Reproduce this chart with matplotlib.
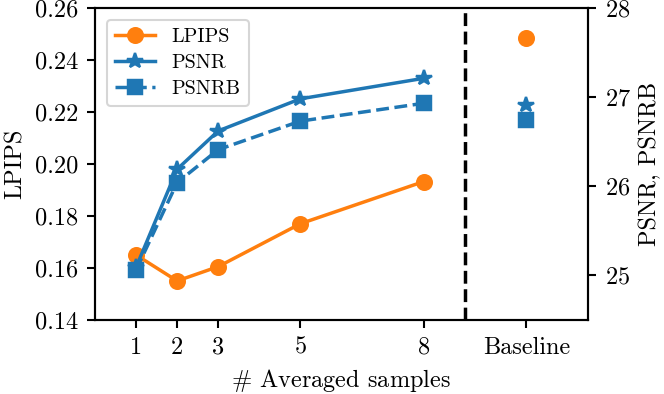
import numpy as np
import matplotlib
matplotlib.use('Agg')
import matplotlib.pyplot as plt

plt.rcParams['font.family'] = 'serif'
plt.rcParams['font.serif'] = ['cmr10']
plt.rcParams['mathtext.fontset'] = 'cm'
plt.rcParams['axes.unicode_minus'] = False
plt.rcParams['axes.formatter.use_mathtext'] = True
plt.rcParams['axes.linewidth'] = 1.5
for a in ['xtick', 'ytick']:
    plt.rcParams[a + '.major.size'] = 6
    plt.rcParams[a + '.major.width'] = 1.5
    plt.rcParams[a + '.major.pad'] = 6

samples = [1, 2, 3, 5, 8]
tick_labels = ['1', '2', '3', '5', '8', 'Baseline']
lpips = [0.165, 0.155, 0.1605, 0.177, 0.1932]
psnr = [25.09, 26.19, 26.62, 26.98, 27.21]
psnrb = [25.06, 26.04, 26.41, 26.73, 26.93]
lpips_base = 0.2486
psnr_base = 26.91
psnrb_base = 26.74

base_x = 10.5
sep_x = 9

orange = '#ff7f0e'
blue = '#1f77b4'
fs = 17.5
ms = 10.5
mew = 1.75
lw = 2.5

fig = plt.figure(figsize=(6.64, 3.94), dpi=100)
ax = fig.add_axes([0.143, 0.188, 0.7425, 0.792])
ax2 = ax.twinx()

l1, = ax.plot(samples, lpips, color=orange, marker='o', ms=ms, mew=mew, lw=lw, label='LPIPS')
ax.plot([base_x], [lpips_base], color=orange, marker='o', ms=ms, mew=mew, ls='none')
l2, = ax2.plot(samples, psnr, color=blue, marker='*', ms=ms + 1, mew=mew, lw=lw, label='PSNR')
l3, = ax2.plot(samples, psnrb, color=blue, marker='s', ms=ms, mew=mew, lw=lw, ls='--', label='PSNRB')
ax2.plot([base_x], [psnr_base], color=blue, marker='*', ms=ms + 1, mew=mew, ls='none')
ax2.plot([base_x], [psnrb_base], color=blue, marker='s', ms=ms, mew=mew, ls='none')

ax.axvline(sep_x, color='black', ls='--', lw=lw)

ax.set_xlim(0, 12)
ax.set_ylim(0.14, 0.26)
ax2.set_ylim(24.5, 28)
ax.set_xticks(samples + [base_x])
ax.set_xticklabels(tick_labels)
yt = np.arange(0.14, 0.261, 0.02)
ax.set_yticks(yt)
ax.set_yticklabels(['%.2f' % v for v in yt])
ax2.set_yticks([25, 26, 27, 28])

ax.tick_params(labelsize=fs)
ax2.tick_params(labelsize=fs)
ax.set_xlabel(r'$\#$ Averaged samples', fontsize=fs, labelpad=6)
ax.set_ylabel('LPIPS', fontsize=fs, labelpad=6)
ax2.set_ylabel('PSNR, PSNRB', fontsize=fs, labelpad=6)

leg = ax.legend(handles=[l1, l2, l3], loc='upper left', fontsize=14.5,
                labelspacing=0.4, borderaxespad=0.6)
leg.get_frame().set_linewidth(1.5)

fig.savefig('out.png', dpi=100)
